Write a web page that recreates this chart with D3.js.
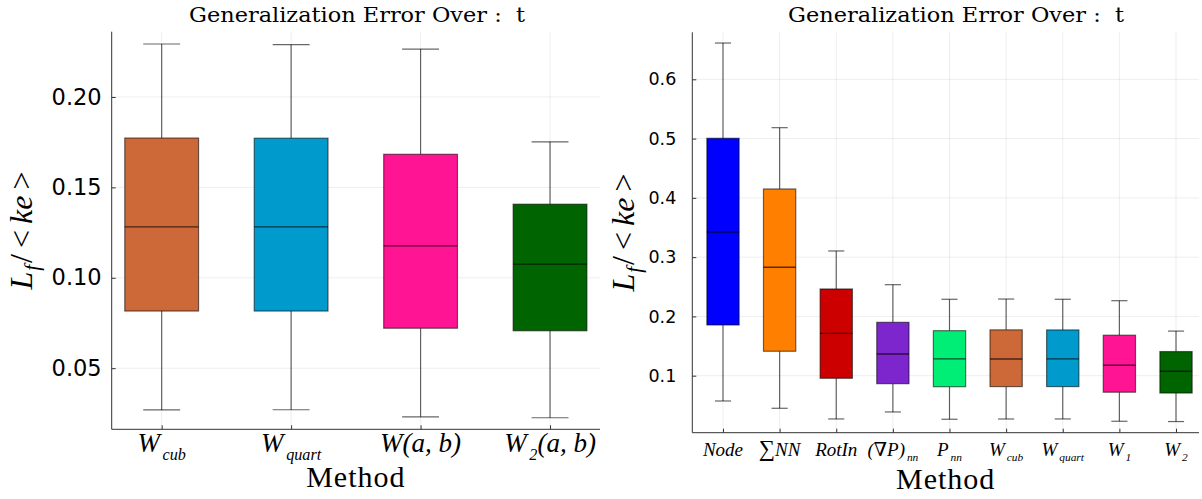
<!DOCTYPE html>
<html>
<head>
<meta charset="utf-8">
<script src="https://cdn.jsdelivr.net/npm/d3@7"></script>
<style>
  html, body { margin: 0; padding: 0; background: #fff; }
  svg { display: block; }
</style>
</head>
<body>
<svg id="chart" width="1202" height="499"></svg>
<script>
// ---------------- DATA ----------------
// Left panel
const leftCategories = ["W_cub", "W_quart", "W(a,b)", "W_2(a,b)"];
const leftMin    = [0.0269, 0.0270, 0.0231, 0.0226];
const leftQ1     = [0.0816, 0.0816, 0.0721, 0.0707];
const leftMedian = [0.1281, 0.1282, 0.1176, 0.1075];
const leftQ3     = [0.1773, 0.1772, 0.1683, 0.1407];
const leftMax    = [0.2293, 0.2289, 0.2265, 0.1752];
const leftColors = ["#CD6839", "#009ACD", "#FF1493", "#006400"];
const leftYTicks = [0.05, 0.10, 0.15, 0.20];
const leftYTickLabels = ["0.05", "0.10", "0.15", "0.20"];

// Right panel
const rightCategories = ["Node", "SumNN", "RotIn", "(gradP)_nn", "P_nn", "W_cub", "W_quart", "W_1", "W_2"];
const rightMin    = [0.0573, 0.0450, 0.0270, 0.0388, 0.0265, 0.0269, 0.0270, 0.0231, 0.0226];
const rightQ1     = [0.1855, 0.1412, 0.0956, 0.0865, 0.0814, 0.0816, 0.0816, 0.0721, 0.0707];
const rightMedian = [0.3424, 0.2829, 0.1715, 0.1366, 0.1282, 0.1281, 0.1282, 0.1176, 0.1075];
const rightQ3     = [0.5005, 0.4150, 0.2463, 0.1900, 0.1759, 0.1773, 0.1772, 0.1683, 0.1407];
const rightMax    = [0.6612, 0.5184, 0.3104, 0.2535, 0.2289, 0.2293, 0.2289, 0.2265, 0.1752];
const rightColors = ["#0000FF", "#FF7F00", "#CD0000", "#7D26CD", "#00EE76", "#CD6839", "#009ACD", "#FF1493", "#006400"];
const rightYTicks = [0.1, 0.2, 0.3, 0.4, 0.5, 0.6];
const rightYTickLabels = ["0.1", "0.2", "0.3", "0.4", "0.5", "0.6"];

// Math-style tick labels: [base, subscript, suffix]
const leftXLabels = [["W", "cub", ""], ["W", "quart", ""], ["W(a, b)", "", ""], ["W", "2", "(a, b)"]];
const rightXLabels = [["Node", "", ""], ["\u2211NN", "", ""], ["RotIn", "", ""], ["(\u2207P)", "nn", ""], ["P", "nn", ""],
                      ["W", "cub", ""], ["W", "quart", ""], ["W", "1", ""], ["W", "2", ""]];

const titleText = "Generalization Error Over :\u00A0\u00A0t";
const xAxisTitle = "Method";

// ---------------- DRAW ----------------
const svg = d3.select("#chart");
const serif = "'Liberation Serif', 'DejaVu Serif', serif";
const titleSerif = "'DejaVu Serif', 'Liberation Serif', serif";
const sans = "'DejaVu Sans', sans-serif";

function panel(cfg) {
  const n = cfg.min.length;
  const idx = d3.range(1, n + 1);
  const x = d3.scaleLinear().domain(cfg.xDomain).range(cfg.xRange);
  const y = d3.scaleLinear().domain(cfg.yDomain).range(cfg.yRange);
  const g = svg.append("g");

  // grid
  g.append("g").selectAll("line").data(cfg.yTicks).join("line")
    .attr("x1", cfg.xRange[0]).attr("x2", cfg.xRange[1])
    .attr("y1", d => y(d)).attr("y2", d => y(d))
    .attr("stroke", "#000").attr("stroke-opacity", 0.07).attr("stroke-width", 1);
  g.append("g").selectAll("line").data(idx).join("line")
    .attr("x1", d => x(d)).attr("x2", d => x(d))
    .attr("y1", cfg.yRange[0]).attr("y2", cfg.yRange[1])
    .attr("stroke", "#000").attr("stroke-opacity", 0.07).attr("stroke-width", 1);

  const bw = cfg.boxW * (x(2) - x(1));
  const data = idx.map((k, i) => ({k, i, mn: cfg.min[i], q1: cfg.q1[i], md: cfg.med[i], q3: cfg.q3[i], mx: cfg.max[i], c: cfg.colors[i]}));
  const bg = g.append("g").selectAll("g").data(data).join("g");
  const wc = "rgba(0,0,0,0.6)";
  // whiskers
  bg.append("line").attr("x1", d => x(d.k)).attr("x2", d => x(d.k))
    .attr("y1", d => y(d.q3)).attr("y2", d => y(d.mx)).attr("stroke", wc).attr("stroke-width", 1.2);
  bg.append("line").attr("x1", d => x(d.k)).attr("x2", d => x(d.k))
    .attr("y1", d => y(d.q1)).attr("y2", d => y(d.mn)).attr("stroke", wc).attr("stroke-width", 1.2);
  // caps
  bg.append("line").attr("x1", d => x(d.k) - bw / 4).attr("x2", d => x(d.k) + bw / 4)
    .attr("y1", d => y(d.mx)).attr("y2", d => y(d.mx)).attr("stroke", wc).attr("stroke-width", 1.2);
  bg.append("line").attr("x1", d => x(d.k) - bw / 4).attr("x2", d => x(d.k) + bw / 4)
    .attr("y1", d => y(d.mn)).attr("y2", d => y(d.mn)).attr("stroke", wc).attr("stroke-width", 1.2);
  // box
  bg.append("rect").attr("x", d => x(d.k) - bw / 2).attr("width", bw)
    .attr("y", d => y(d.q3)).attr("height", d => y(d.q1) - y(d.q3))
    .attr("fill", d => d.c).attr("stroke", "rgba(0,0,0,0.55)").attr("stroke-width", 1.2);
  // median
  bg.append("line").attr("x1", d => x(d.k) - bw / 2).attr("x2", d => x(d.k) + bw / 2)
    .attr("y1", d => y(d.md)).attr("y2", d => y(d.md)).attr("stroke", "rgba(0,0,0,0.65)").attr("stroke-width", 1.3);

  // axes
  const ya = d3.axisLeft(y).tickValues(cfg.yTicks).tickSize(-4).tickPadding(cfg.yPad)
    .tickFormat((d, i) => cfg.yLabels[i]);
  const yg = g.append("g").attr("transform", `translate(${cfg.xRange[0]},0)`).call(ya);
  yg.select(".domain").attr("stroke", "#333").attr("d", `M0,${cfg.yRange[0]}V${cfg.yRange[1]}`);
  yg.selectAll(".tick line").attr("stroke", "#333");
  yg.selectAll(".tick text").attr("font-family", sans).attr("font-size", cfg.yFont).attr("fill", "#000");

  const xa = d3.axisBottom(x).tickValues(idx).tickSize(-4).tickFormat("");
  const xg = g.append("g").attr("transform", `translate(0,${cfg.yRange[0]})`).call(xa);
  xg.select(".domain").attr("stroke", "#333").attr("d", `M${cfg.xRange[0]},0H${cfg.xRange[1]}`);
  xg.selectAll(".tick line").attr("stroke", "#333");

  // x tick labels (math)
  const tl = g.append("g").selectAll("text").data(cfg.xLabels).join("text")
    .attr("x", (d, i) => x(i + 1)).attr("y", cfg.xLabelY)
    .attr("text-anchor", "middle").attr("font-family", serif).attr("font-style", "italic")
    .attr("font-size", cfg.xFont).attr("fill", "#000");
  tl.each(function(d) {
    const t = d3.select(this);
    let base = d[0];
    if (base.startsWith("\u2211")) {
      t.append("tspan").attr("font-style", "normal").attr("font-size", cfg.xFont * 1.2).text("\u2211");
      base = base.slice(1);
    }
    t.append("tspan").text(base);
    if (d[1]) {
      t.append("tspan").attr("font-size", cfg.xFont * 0.6).attr("dx", cfg.xFont * 0.1).attr("dy", cfg.xFont * 0.28).text(d[1]);
      if (d[2]) t.append("tspan").attr("dy", -cfg.xFont * 0.28).text(d[2]);
    }
  });

  // titles
  g.append("text").attr("x", cfg.titleX).attr("y", 22).attr("text-anchor", "middle")
    .attr("font-family", titleSerif).attr("font-size", 20).attr("fill", "#000")
    .attr("textLength", 336).attr("lengthAdjust", "spacingAndGlyphs")
    .text(titleText);
  g.append("text").attr("x", (cfg.xRange[0] + cfg.xRange[1]) / 2).attr("y", cfg.xTitleY).attr("text-anchor", "middle")
    .attr("font-family", serif).attr("font-size", 30).attr("fill", "#000").attr("letter-spacing", 1).text(xAxisTitle);

  // y title
  const ymid = (cfg.yRange[0] + cfg.yRange[1]) / 2;
  const yt = g.append("text").attr("transform", `translate(${cfg.yTitleX},${ymid}) rotate(-90)`)
    .attr("text-anchor", "middle").attr("font-family", serif).attr("font-size", 32).attr("fill", "#000");
  yt.append("tspan").attr("font-style", "italic").text("L");
  yt.append("tspan").attr("font-style", "italic").attr("font-size", 21).attr("dx", 1).attr("dy", 7).text("f");
  yt.append("tspan").attr("dx", 2).attr("dy", -7).text("/");
  yt.append("tspan").attr("dx", 6).text("<");
  yt.append("tspan").attr("dx", 6).attr("font-style", "italic").text("ke");
  yt.append("tspan").attr("dx", 6).text(">");
}

panel({
  min: leftMin, q1: leftQ1, med: leftMedian, q3: leftQ3, max: leftMax, colors: leftColors,
  xDomain: [0.614, 4.386], xRange: [111.7, 600],
  yDomain: [0.0162, 0.2361], yRange: [429.3, 31.7],
  yTicks: leftYTicks, yLabels: leftYTickLabels, yFont: 22.5, yPad: 10,
  xLabels: leftXLabels, xFont: 27, xLabelY: 452, boxW: 0.57,
  titleX: 357, xTitleY: 487, yTitleX: 32
});
panel({
  min: rightMin, q1: rightQ1, med: rightMedian, q3: rightQ3, max: rightMax, colors: rightColors,
  xDomain: [0.458, 9.406], xRange: [692.3, 1199],
  yDomain: [0.0038, 0.6793], yRange: [432.7, 32.3],
  yTicks: rightYTicks, yLabels: rightYTickLabels, yFont: 17.5, yPad: 16,
  xLabels: rightXLabels, xFont: 19, xLabelY: 456, boxW: 0.57,
  titleX: 956, xTitleY: 489, yTitleX: 634
});
</script>
</body>
</html>
